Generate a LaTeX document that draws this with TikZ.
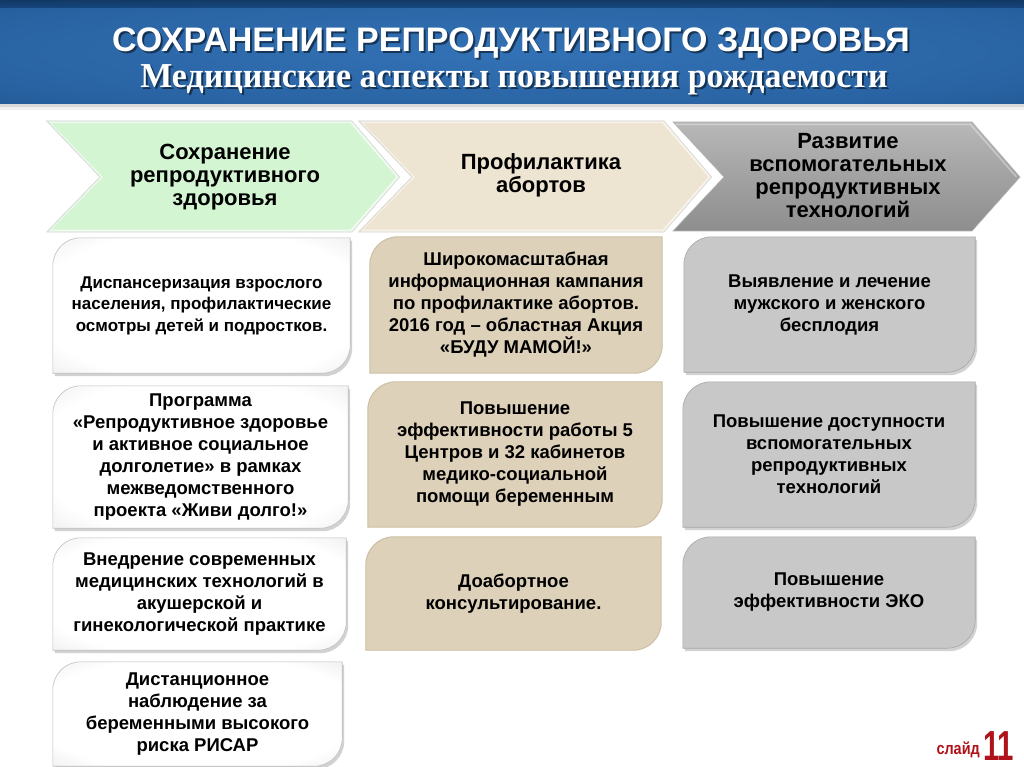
\documentclass[tikz,border=0pt]{standalone}
\usepackage{fontspec}
\setmainfont{Liberation Sans}
\newfontfamily\serifbold{Liberation Serif}
\usetikzlibrary{backgrounds,shadows}
\definecolor{hdrdark}{HTML}{0F3C70}
\definecolor{hdrmid}{HTML}{3372B6}
\definecolor{chgreen}{HTML}{D3F5D2}
\definecolor{chgreenE}{HTML}{EEFBEE}
\definecolor{chbeige}{HTML}{EEE4D2}
\definecolor{chbeigeE}{HTML}{F8F3EA}
\definecolor{chgrayT}{HTML}{B8B8B8}
\definecolor{chgray}{HTML}{A2A2A2}
\definecolor{chgrayB}{HTML}{8E8E8E}
\definecolor{bxbeige}{HTML}{DDD1BA}
\definecolor{bxbeigeE}{HTML}{CDBFA5}
\definecolor{bxgray}{HTML}{C8C8C8}
\definecolor{slidered}{HTML}{B0121B}
\pgfdeclareradialshading{hdrsh}{\pgfpoint{0bp}{0bp}}{color(0bp)=(hdrmid); color(30bp)=(hdrmid!70!hdrdark); color(60bp)=(hdrdark); color(80bp)=(hdrdark)}
\pgfdeclareradialshading{whitesh}{\pgfpoint{0bp}{0bp}}{color(0bp)=(white); color(28bp)=(white); color(42bp)=(black!10); color(55bp)=(black!25); color(75bp)=(black!35)}
\pgfdeclareradialshading{graysh}{\pgfpoint{0bp}{0bp}}{color(0bp)=(bxgray); color(35bp)=(bxgray); color(50bp)=(bxgray!85!black); color(75bp)=(bxgray!75!black)}
\tikzset{
  chtxt/.style={align=center, font=\fontsize{22}{23}\selectfont\bfseries, text=black},
  btxt/.style={align=center, font=\fontsize{18.5}{22}\selectfont\bfseries, text=black, inner sep=0pt},
  smalltxt/.style={font=\fontsize{17}{21.5}\selectfont\bfseries},
  whitebox/.style={shading=whitesh, draw=black!25, line width=0.6pt, drop shadow={shadow xshift=2pt, shadow yshift=-3pt, opacity=0.35}},
  beigebox/.style={fill=bxbeige, draw=bxbeigeE, line width=1pt},
  graybox/.style={shading=graysh, draw=black!35, line width=0.6pt, drop shadow={shadow xshift=2pt, shadow yshift=-3pt, opacity=0.35}},
}
% #1 text style, #2 name, #3 x1, #4 y1, #5 x2, #6 y2, #7 style, #8 text
\newcommand\mkbox[8][]{%
  \node[btxt, #1, minimum width={#5pt-#3pt}, minimum height={#6pt-#4pt}] (#2) at ({(#3+#5)/2},{(#4+#6)/2}) {#8};
  \begin{scope}[on background layer]
    \path[#7] (#2.south west) -- ([yshift=-28pt]#2.north west)
      .. controls ([yshift=-12.5pt]#2.north west) and ([xshift=12.5pt]#2.north west) .. ([xshift=28pt]#2.north west)
      -- (#2.north east) -- ([yshift=28pt]#2.south east)
      .. controls ([yshift=12.5pt]#2.south east) and ([xshift=-12.5pt]#2.south east) .. ([xshift=-28pt]#2.south east) -- cycle;
  \end{scope}
}
\begin{document}
\begin{tikzpicture}[x=1pt,y=-1pt]
\useasboundingbox (0,0) rectangle (1024,767);
\begin{scope}[on background layer]
\fill[white] (0,0) rectangle (1024,767);
\end{scope}
% header
\shade[shading=hdrsh] (0,0) rectangle (1024,104);
\shade[top color=hdrdark!70!black, bottom color=hdrdark, opacity=0.7] (0,0) rectangle (1024,8);
\fill[black!15] (0,104) rectangle (1024,107);
\fill[black!6] (0,107) rectangle (1024,110);
\node[text=black, opacity=0.5, font=\fontsize{34}{34}\selectfont\bfseries] at (513,45) {СОХРАНЕНИЕ РЕПРОДУКТИВНОГО ЗДОРОВЬЯ};
\node[text=white, font=\fontsize{34}{34}\selectfont\bfseries] (title) at (511,43) {СОХРАНЕНИЕ РЕПРОДУКТИВНОГО ЗДОРОВЬЯ};
\node[text=black, opacity=0.5, font=\fontsize{35}{35}\selectfont\serifbold\bfseries] at (516,82) {\scalebox{0.97}[1]{Медицинские аспекты повышения рождаемости}};
\node[text=white, font=\fontsize{35}{35}\selectfont\serifbold\bfseries] (subtitle) at (514,80) {\scalebox{0.97}[1]{Медицинские аспекты повышения рождаемости}};
% chevrons
\foreach \L/\fc/\ec in {48/chgreen/chgreenE, 360/chbeige/chbeigeE} {
  \path[fill=\fc, draw=\ec, line width=2.5pt, line join=miter]
    (\L,122) -- (\L+303,122) -- (\L+350,177) -- (\L+303,231) -- (\L,231) -- (\L+53,177) -- cycle;
  \path[draw=black!18, line width=0.6pt]
    (\L-1,121) -- (\L+304,121) -- (\L+351.5,177) -- (\L+304,232) -- (\L-1,232) -- (\L+52,177) -- cycle;
}
\path[top color=chgrayT, bottom color=chgrayB, middle color=chgray, draw=black!30, line width=0.6pt, line join=miter]
  (673,122) -- (972,122) -- (1020,177) -- (972,231) -- (673,231) -- (724,177) -- cycle;
\path[draw=white, opacity=0.35, line width=1.5pt] (676,124.5) -- (970.5,124.5) -- (1016.5,177);
\node[chtxt] (c1) at (225,177) {Сохранение\\репродуктивного\\здоровья};
\node[chtxt] (c2) at (541,175) {Профилактика\\абортов};
\node[chtxt] (c3) at (848,176) {Развитие\\вспомогательных\\репродуктивных\\технологий};
% column 1
\mkbox[smalltxt]{a1}{53}{238}{350}{373}{whitebox}{Диспансеризация взрослого\\населения, профилактические\\осмотры детей и подростков.}
\mkbox{a2}{53}{386}{348}{528}{whitebox}{Программа\\«Репродуктивное здоровье\\и активное социальное\\долголетие» в рамках\\межведомственного\\проекта «Живи долго!»}
\mkbox{a3}{53}{538}{346}{650}{whitebox}{Внедрение современных\\медицинских технологий в\\акушерской и\\гинекологической практике}
\mkbox{a4}{53}{662}{342}{766}{whitebox}{Дистанционное\\наблюдение за\\беременными высокого\\риска РИСАР}
% column 2
\mkbox{b1}{370}{237}{662}{373}{beigebox}{Широкомасштабная\\информационная кампания\\по профилактике абортов.\\2016 год – областная Акция\\«БУДУ МАМОЙ!»}
\mkbox{b2}{368}{382}{662}{527}{beigebox}{Повышение\\эффективности работы 5\\Центров и 32 кабинетов\\медико-социальной\\помощи беременным}
\mkbox{b3}{366}{537}{661}{650}{beigebox}{Доабортное\\консультирование.}
% column 3
\mkbox{g1}{684}{237}{975}{372}{graybox}{Выявление и лечение\\мужского и женского\\бесплодия}
\mkbox{g2}{683}{382}{975}{527}{graybox}{Повышение доступности\\вспомогательных\\репродуктивных\\технологий}
\mkbox{g3}{683}{537}{975}{648}{graybox}{Повышение\\эффективности ЭКО}
% slide number
\node[anchor=base east, text=slidered, font=\fontsize{17}{17}\selectfont\bfseries, inner sep=0pt] (sl) at (980,754) {\scalebox{0.85}[1]{слайд}};
\node[anchor=base west, text=slidered, font=\fontsize{42}{42}\selectfont\bfseries, inner sep=0pt] (sn) at (983,760) {\scalebox{0.7}[1]{11}};
\end{tikzpicture}
\end{document}
